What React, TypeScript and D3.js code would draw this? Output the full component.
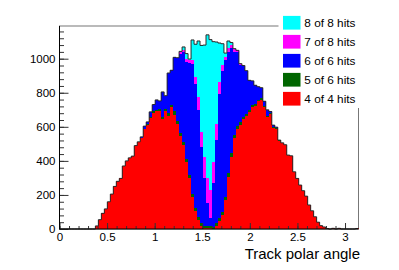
import React, { useEffect, useRef } from "react";
import * as d3 from "d3";

// histogram binning: 100 bins over [0, pi]
const nBins = 100;
const xMin = 0;
const xMax = Math.PI;
const yMax = 1192;

// bin contents (bins 0..99)
const hits4of4 = [
  0, 0, 0, 0, 0, 0, 0, 0, 0, 0, 0, 0,
  18, 55, 92, 118, 160, 205, 250, 280, 297, 370, 400, 418, 428, 490,
  508, 533, 587, 611, 652, 682, 690, 695, 646, 693, 665, 714, 672, 617,
  547, 494, 392, 302, 187, 107, 55, 20, 6, 3, 4, 2,
  20, 46, 83, 169, 306, 424, 533, 586, 613, 645, 664,
  687, 715, 723, 750, 760, 717, 657, 674, 595, 588,
  519, 504, 493, 432, 428,
  336, 297, 258, 225, 193, 141, 107, 72, 40, 20, 12,
  3, 0, 4, 0, 4, 0, 0, 0, 0, 0, 3,
];
const hits5of6 = [
  0, 0, 0, 0, 0, 0, 0, 0, 0, 0, 0, 0,
  0, 0, 0, 0, 0, 0, 0, 0, 0, 0, 0, 0, 0, 0,
  0, 2, 3, 4, 6, 8, 10, 12, 12, 14, 15, 16, 18, 18,
  18, 18, 18, 18, 18, 18, 17, 15, 14, 12, 14, 10,
  15, 18, 18, 20, 20, 20, 18, 18, 16, 15, 14,
  13, 12, 12, 10, 10, 8, 8, 6, 5, 4,
  3, 2, 2, 2, 2,
  0, 0, 0, 0, 0, 0, 0, 0, 0, 0, 0,
  0, 0, 0, 0, 0, 0, 0, 0, 0, 0, 0,
];
const hits6of6 = [
  0, 0, 0, 0, 0, 0, 0, 0, 0, 0, 0, 0,
  0, 0, 0, 0, 0, 0, 0, 0, 0, 0, 0, 0, 0, 0,
  4, 6, 14, 14, 30, 41, 58, 45, 147, 76, 236, 202, 318, 371,
  465, 526, 570, 655, 761, 729, 626, 448, 280, 135, 44, 256,
  487, 731, 829, 801, 714, 618, 489, 436, 335, 295, 249,
  173, 143, 109, 76, 60, 25, 35, 10, 10, 6,
  0, 0, 0, 0, 0,
  0, 0, 0, 0, 0, 0, 0, 0, 0, 0, 0,
  0, 0, 0, 0, 0, 0, 0, 0, 0, 0, 0,
];
const hits7of8 = [
  0, 0, 0, 0, 0, 0, 0, 0, 0, 0, 0, 0,
  0, 0, 0, 0, 0, 0, 0, 0, 0, 0, 0, 0, 0, 0,
  0, 0, 0, 0, 0, 0, 0, 0, 0, 0, 0, 0, 0, 0,
  10, 12, 20, 20, 25, 39, 78, 88, 120, 150, 166, 127,
  97, 69, 35, 20, 22, 18, 19, 9, 7, 5, 3,
  0, 0, 0, 0, 0, 0, 0, 0, 0, 0,
  0, 0, 0, 0, 0,
  0, 0, 0, 0, 0, 0, 0, 0, 0, 0, 0,
  0, 0, 0, 0, 0, 0, 0, 0, 0, 0, 0,
];
const hits8of8 = [
  0, 0, 0, 0, 0, 0, 0, 0, 0, 0, 0, 0,
  0, 0, 0, 0, 0, 0, 0, 0, 0, 0, 0, 0, 0, 0,
  0, 0, 0, 0, 0, 0, 0, 0, 0, 0, 0, 0, 0, 0,
  3, 19, 30, 3, 119, 192, 328, 507, 660, 840, 884, 705,
  479, 228, 123, 23, 42, 15, 0, 0, 0, 0, 0,
  0, 0, 0, 0, 0, 0, 0, 0, 0, 0,
  0, 0, 0, 0, 0,
  0, 0, 0, 0, 0, 0, 0, 0, 0, 0, 0,
  0, 0, 0, 0, 0, 0, 0, 0, 0, 0, 0,
];

// stacking order: bottom first
const seriesKeys = ["4of4", "5of6", "6of6", "7of8", "8of8"];
const seriesValues = [hits4of4, hits5of6, hits6of6, hits7of8, hits8of8];
const seriesColors = ["#ff0000", "#006600", "#0000ff", "#ff00ff", "#00ffff"];
// legend, top to bottom
const legendLabels = ["8 of 8 hits", "7 of 8 hits", "6 of 6 hits", "5 of 6 hits", "4 of 4 hits"];
const legendColors = ["#00ffff", "#ff00ff", "#0000ff", "#006600", "#ff0000"];

const xTicks = [0, 0.5, 1, 1.5, 2, 2.5, 3];
const xTickLabels = ["0", "0.5", "1", "1.5", "2", "2.5", "3"];
const yTicks = [0, 200, 400, 600, 800, 1000];
const yTickLabels = ["0", "200", "400", "600", "800", "1000"];
const xTitle = "Track polar angle";

const FONT = "'Liberation Sans', Arial, Helvetica, sans-serif";

const App = () => {
  const svgRef = useRef<SVGSVGElement>(null);

  useEffect(() => {
    drawChart();
  }, []);

  const drawChart = () => {
    const svg = d3.select(svgRef.current);
    svg.selectAll("*").remove();

    const frame = { left: 59.5, right: 358.5, top: 26, bottom: 229 };

    const x = d3.scaleLinear().domain([xMin, xMax]).range([frame.left, frame.right]);
    const y = d3.scaleLinear().domain([0, yMax]).range([frame.bottom, frame.top]);

    const binW = (xMax - xMin) / nBins;
    const table = d3.range(nBins).map((i) => {
      const row: any = { lo: xMin + i * binW, hi: xMin + (i + 1) * binW };
      seriesKeys.forEach((k, j) => (row[k] = seriesValues[j][i]));
      return row;
    });

    // frame
    svg
      .append("rect")
      .attr("x", frame.left)
      .attr("y", frame.top)
      .attr("width", frame.right - frame.left)
      .attr("height", frame.bottom - frame.top)
      .attr("fill", "none")
      .attr("stroke", "#777");

    // stacked histograms
    const stacked = d3.stack<any>().keys(seriesKeys)(table);
    const area = d3
      .area<number[]>()
      .x((d) => d[0])
      .y0((d) => d[1])
      .y1((d) => d[2]);

    stacked.forEach((layer, k) => {
      const pts: number[][] = [];
      layer.forEach((d, i) => {
        pts.push([x(table[i].lo), y(d[0]), y(d[1])]);
        pts.push([x(table[i].hi), y(d[0]), y(d[1])]);
      });
      svg
        .append("path")
        .attr("d", area(pts))
        .attr("fill", seriesColors[k])
        .attr("shape-rendering", "crispEdges");
    });

    // outline of the total
    const top = stacked[stacked.length - 1];
    const outlinePts: [number, number][] = [];
    top.forEach((d, i) => {
      outlinePts.push([x(table[i].lo), y(d[1])]);
      outlinePts.push([x(table[i].hi), y(d[1])]);
    });
    svg
      .append("path")
      .attr("d", d3.line()(outlinePts))
      .attr("fill", "none")
      .attr("stroke", "#2a2a2a")
      .attr("stroke-width", 1);

    // axes (ticks pointing inwards, ROOT style)
    const xMinor = d3.range(0, 31).map((i) => i / 10).filter((v) => v <= xMax);
    const yMinor = d3.range(0, yMax, 40);

    svg
      .append("g")
      .attr("transform", `translate(0,${frame.bottom})`)
      .call(d3.axisBottom(x).tickValues(xMinor).tickSize(-3).tickFormat(() => ""))
      .call((g) => g.select(".domain").remove());
    svg
      .append("g")
      .attr("transform", `translate(${frame.left},0)`)
      .call(d3.axisLeft(y).tickValues(yMinor).tickSize(-4.5).tickFormat(() => ""))
      .call((g) => g.select(".domain").remove());

    const xAxis = svg
      .append("g")
      .attr("transform", `translate(0,${frame.bottom})`)
      .call(
        d3
          .axisBottom(x)
          .tickValues(xTicks)
          .tickSize(-6)
          .tickSizeOuter(0)
          .tickPadding(3.5)
          .tickFormat((d, i) => xTickLabels[i])
      );
    const yAxis = svg
      .append("g")
      .attr("transform", `translate(${frame.left},0)`)
      .call(
        d3
          .axisLeft(y)
          .tickValues(yTicks)
          .tickSize(-9)
          .tickSizeOuter(0)
          .tickPadding(4)
          .tickFormat((d, i) => yTickLabels[i])
      );
    [xAxis, yAxis].forEach((g) => {
      g.attr("font-family", FONT).attr("font-size", 11.5);
      g.selectAll("text").attr("fill", "#000");
      g.select(".domain").attr("stroke", "#000").attr("d", null);
    });
    svg.selectAll(".tick line").attr("stroke", "#333");

    // axis lines
    svg
      .append("line")
      .attr("x1", frame.left)
      .attr("x2", frame.right)
      .attr("y1", frame.bottom)
      .attr("y2", frame.bottom)
      .attr("stroke", "#000");
    svg
      .append("line")
      .attr("x1", frame.left)
      .attr("x2", frame.left)
      .attr("y1", frame.top)
      .attr("y2", frame.bottom)
      .attr("stroke", "#000");

    // axis title
    svg
      .append("text")
      .attr("x", 360)
      .attr("y", 258.5)
      .attr("text-anchor", "end")
      .attr("font-family", FONT)
      .attr("font-size", 15)
      .attr("fill", "#000")
      .text(xTitle);

    // legend
    const legend = svg.append("g");
    legend
      .append("rect")
      .attr("x", 278.5)
      .attr("y", 0)
      .attr("width", 121)
      .attr("height", 108)
      .attr("fill", "#fff");
    legendLabels.forEach((label, k) => {
      const cy = 22.7 + k * 19;
      legend
        .append("rect")
        .attr("x", 283)
        .attr("y", cy - 6.8)
        .attr("width", 17.5)
        .attr("height", 13.7)
        .attr("fill", legendColors[k]);
      legend
        .append("text")
        .attr("x", 304.3)
        .attr("y", cy + 4.4)
        .attr("font-family", FONT)
        .attr("font-size", 11.8)
        .attr("fill", "#000")
        .text(label);
    });
  };

  return (
    <svg
      ref={svgRef}
      width={399}
      height={270}
      style={{ position: "absolute", left: 0, top: 0, background: "#fff" }}
    ></svg>
  );
};

export default App;
